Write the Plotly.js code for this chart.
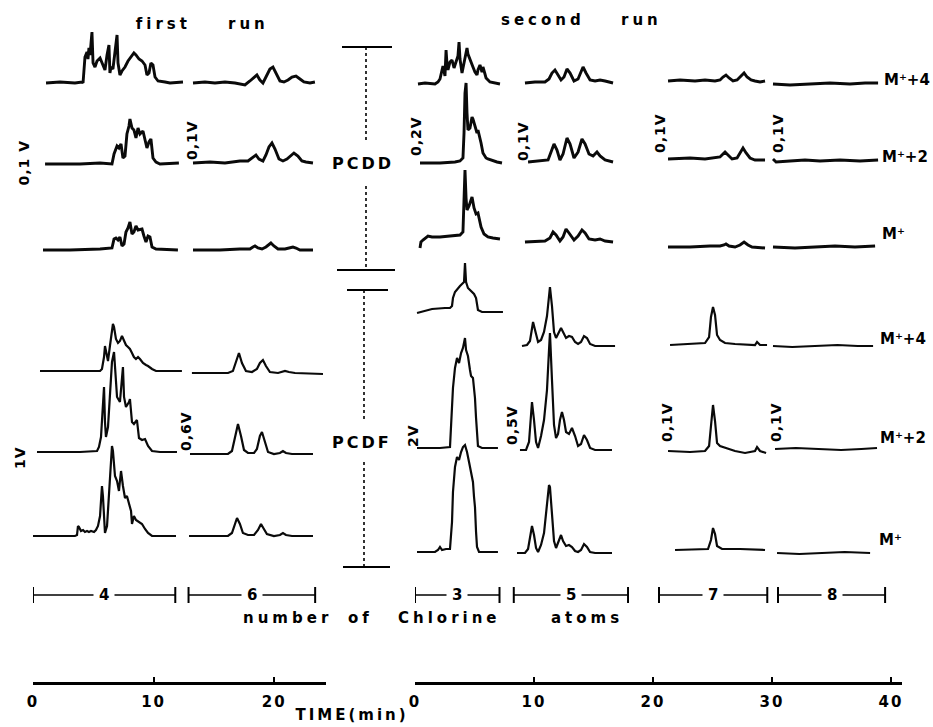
<!DOCTYPE html>
<html><head><meta charset="utf-8">
<script src="https://cdn.plot.ly/plotly-3.0.1.min.js"></script>
<style>
html,body{margin:0;padding:0;background:#fff}
#chart{width:933px;height:727px}
.xtick text,.x2tick text{letter-spacing:2px}
</style>
</head><body><div id="chart"></div>
<script>
// ================= DATA (time in min, signal deflection in relative units) =================
// ---- first run, 4 Cl ----
const t_c4_dd_M4 = [1.08,2.24,3.48,4.06,4.15,4.23,4.31,4.48,4.56,4.64,4.73,4.89,4.98,5.14,5.31,5.56,5.72,5.89,5.97,6.14,6.30,6.38,6.47,6.63,6.80,6.97,7.05,7.21,7.38,7.63,7.88,8.13,8.37,8.54,8.79,9.04,9.29,9.45,9.62,9.78,9.95,10.12,10.37,10.95,11.36,12.44];
const v_c4_dd_M4 = [0,1,0,1,0,20,26,31,24,35,28,51,20,16,22,25,20,15,13,28,38,10,16,14,30,48,20,8,12,16,22,26,30,28,24,22,18,8,10,20,18,6,2,1,0,1];
const t_c4_dd_M2 = [1.0,3.73,3.9,5.56,6.55,6.72,6.97,7.13,7.30,7.46,7.63,7.79,7.96,8.04,8.21,8.37,8.54,8.71,8.87,9.12,9.29,9.45,9.62,9.78,9.95,10.2,10.53,12.1];
const v_c4_dd_M2 = [0,0,0,1,0,10,18,16,20,6,8,30,38,45,36,34,26,36,30,33,24,16,22,25,6,2,0,1];
const t_c4_dd_M  = [0.83,3.07,5.56,6.55,6.72,6.88,7.05,7.21,7.38,7.55,7.71,7.88,8.04,8.21,8.37,8.54,8.71,9.04,9.20,9.37,9.54,9.70,9.87,10.2,12.02];
const v_c4_dd_M  = [0,0,1,2,11,12,10,13,4,6,18,22,28,16,18,24,20,21,14,8,14,13,3,1,0];
const t_c4_df_M4 = [0.58,5.56,5.72,5.89,5.97,6.05,6.22,6.38,6.55,6.63,6.72,6.88,7.05,7.21,7.38,7.55,7.71,7.88,8.04,8.21,8.37,8.54,8.71,8.87,9.12,9.37,9.54,9.87,10.2,12.35];
const v_c4_df_M4 = [0,0,2,14,25,20,10,25,40,47,44,32,28,30,35,30,26,24,22,18,14,12,14,12,8,6,5,2,0,0];
const t_c4_df_M2 = [0.33,3.90,5.31,5.47,5.64,5.80,5.89,5.97,6.05,6.22,6.38,6.55,6.72,6.80,6.97,7.21,7.38,7.46,7.55,7.71,7.96,8.04,8.21,8.37,8.62,8.79,9.04,9.29,9.54,9.87,10.53,11.94];
const v_c4_df_M2 = [0,0,1,5,15,45,65,30,15,25,60,90,100,85,55,50,75,85,55,45,50,53,30,28,32,14,12,13,6,1,0,0];
const t_c4_df_M  = [0,3.48,3.65,3.73,3.81,3.98,4.15,4.31,4.48,4.64,4.81,5.06,5.22,5.39,5.56,5.72,5.80,5.89,5.97,6.14,6.30,6.47,6.55,6.63,6.80,6.97,7.13,7.21,7.30,7.46,7.63,7.79,7.96,8.13,8.21,8.37,8.54,8.79,9.04,9.29,9.54,9.87,11.86];
const v_c4_df_M  = [0,0,1,10,9,5,6,4,5,4,5,4,6,10,20,50,40,10,3,10,40,75,90,85,60,55,45,55,65,50,38,40,33,25,12,20,16,14,12,7,3,0,0];
// ---- first run, 6 Cl ----
const t_c6_dd_M4 = [13.27,14.26,15.09,15.92,16.75,17.58,17.99,18.33,18.57,18.82,19.07,19.32,19.65,19.90,20.15,20.48,20.81,21.15,21.48,21.81,22.14,22.47,22.97,23.38];
const v_c6_dd_M4 = [0,1,0,1,0,-2,2,6,8,3,0,6,14,16,10,2,1,3,6,7,4,1,0,1];
const t_c6_dd_M2 = [13.27,14.68,15.92,17.16,17.83,18.24,18.49,18.74,19.07,19.32,19.57,19.82,20.07,20.4,20.73,21.06,21.39,21.64,21.97,22.3,22.64,23.22];
const v_c6_dd_M2 = [0,1,0,2,2,6,8,4,2,8,16,20,14,4,2,4,8,10,7,2,1,0];
const t_c6_dd_M  = [13.27,15.51,17.16,17.99,18.24,18.41,18.66,18.99,19.32,19.57,19.73,19.98,20.32,20.9,21.31,21.56,21.81,22.14,23.22];
const v_c6_dd_M  = [0,0,1,1,3,4,2,1,3,6,7,4,1,1,2,3,2,0,0];
const t_c6_df_M4 = [13.18,16.17,16.58,16.83,17.08,17.33,17.66,18.16,18.57,18.82,19.07,19.32,19.65,20.32,20.65,20.9,21.23,21.73,24.05];
const v_c6_df_M4 = [0,0,2,10,20,10,2,1,4,10,13,7,1,0,1,2,1,0,-1];
const t_c6_df_M2 = [13.02,16.17,16.5,16.75,17.0,17.25,17.5,17.83,18.33,18.57,18.82,18.99,19.24,19.49,19.98,20.48,20.73,20.98,21.48,23.22];
const v_c6_df_M2 = [0,0,3,15,30,18,4,1,1,5,18,22,12,2,0,1,3,1,0,0];
const t_c6_df_M  = [12.94,16.17,16.5,16.75,16.92,17.16,17.41,17.83,18.33,18.66,18.91,19.15,19.40,19.98,20.48,20.73,20.98,21.48,23.22];
const v_c6_df_M  = [0,0,3,12,18,12,3,1,1,6,12,7,2,0,1,3,1,0,0];
// ---- second run, 3 Cl ----
const t_c3_dd_M4 = [0.25,0.84,1.68,1.93,2.10,2.27,2.35,2.52,2.61,2.69,2.77,2.94,3.11,3.28,3.45,3.61,3.70,3.78,3.95,4.12,4.20,4.37,4.45,4.62,4.79,4.87,5.04,5.21,5.29,5.46,5.63,5.71,5.88,5.97,6.30,6.72,7.14];
const v_c3_dd_M4 = [0,1,0,2,5,14,18,8,34,20,14,22,24,16,22,28,42,25,11,22,29,36,30,24,20,17,12,9,14,19,12,17,10,6,2,1,0];
const t_c3_dd_M2 = [0.42,2.10,3.36,3.78,4.03,4.12,4.20,4.29,4.37,4.45,4.62,4.79,4.87,5.04,5.21,5.29,5.46,5.55,5.71,5.97,6.13,6.55,6.89,7.31];
const v_c3_dd_M2 = [0,0,1,2,5,30,70,80,50,33,35,46,44,36,30,33,25,20,10,5,4,2,1,0];
const t_c3_dd_M  = [0.42,0.50,0.67,0.84,1.09,1.43,2.10,2.94,3.78,4.03,4.12,4.20,4.29,4.37,4.54,4.71,4.79,4.96,5.13,5.29,5.46,5.55,5.80,6.13,6.55,7.14];
const v_c3_dd_M  = [-10,-4,-2,0,2,1,1,2,3,6,40,68,40,28,32,38,41,30,24,25,16,11,4,1,0,-1];
const t_c3_df_M4 = [0.17,0.84,1.43,2.52,2.94,3.11,3.19,3.36,3.61,3.78,3.95,4.12,4.20,4.29,4.45,4.62,4.79,4.96,5.13,5.21,5.29,5.63,6.30,7.39];
const v_c3_df_M4 = [-1,1,3,4,4,6,14,20,24,26,28,30,49,30,24,22,20,18,14,6,2,0,0,0];
const t_c3_df_M2 = [0.17,2.10,2.94,3.11,3.19,3.36,3.53,3.70,3.87,4.03,4.12,4.20,4.29,4.45,4.62,4.71,4.87,4.96,5.04,5.13,5.21,5.29,5.63,6.97];
const v_c3_df_M2 = [0,0,1,40,60,80,90,85,95,100,106,110,98,92,78,72,70,60,50,30,10,2,0,0];
const t_c3_df_M  = [0.17,1.68,1.93,2.10,2.27,2.61,2.94,3.11,3.19,3.36,3.53,3.70,3.87,4.03,4.20,4.37,4.54,4.71,4.87,4.96,5.04,5.13,5.21,5.38,6.97];
const v_c3_df_M  = [0,0,2,5,2,3,3,30,60,85,95,92,100,105,107,100,90,80,70,55,45,20,5,0,0];
// ---- second run, 5 Cl ----
const t_c5_dd_M4 = [9.24,10.08,10.92,11.26,11.51,11.76,12.02,12.27,12.52,12.77,13.03,13.36,13.70,13.95,14.12,14.37,14.71,15.13,15.55,15.97,16.64];
const v_c5_dd_M4 = [0,1,1,4,10,13,8,3,6,14,10,2,4,12,16,10,3,2,3,2,0];
const t_c5_dd_M2 = [9.50,10.50,11.18,11.43,11.68,11.93,12.18,12.44,12.77,13.03,13.36,13.70,14.03,14.29,14.62,14.96,15.29,15.55,15.97,16.64];
const v_c5_dd_M2 = [0,1,2,10,18,12,2,8,24,18,4,10,23,18,8,6,10,6,2,0];
const t_c5_dd_M  = [9.24,10.92,11.34,11.60,11.85,12.18,12.44,12.69,12.94,13.36,13.70,14.03,14.29,14.62,15.13,15.55,15.97,16.64];
const v_c5_dd_M  = [0,1,4,10,7,1,5,13,9,2,6,12,9,3,2,3,1,0];
const t_c5_df_M4 = [8.99,9.41,9.66,9.92,10.17,10.34,10.59,10.84,11.09,11.26,11.34,11.51,11.68,11.85,12.02,12.27,12.44,12.69,12.94,13.19,13.45,13.70,13.95,14.20,14.45,14.71,15.13,16.81];
const v_c5_df_M4 = [0,1,5,24,12,4,6,14,30,50,59,40,14,8,12,18,14,8,10,9,4,2,4,10,8,2,0,0];
const t_c5_df_M2 = [8.82,9.33,9.58,9.75,9.83,10.0,10.17,10.34,10.59,10.84,11.09,11.26,11.34,11.51,11.68,11.85,12.02,12.18,12.35,12.52,12.69,12.94,13.19,13.45,13.70,13.95,14.20,14.45,14.71,15.13,16.55];
const v_c5_df_M2 = [0,0,8,30,48,30,8,2,14,30,60,100,117,70,25,12,16,30,38,30,18,16,22,14,4,6,15,10,2,0,0];
const t_c5_df_M  = [8.57,9.24,9.50,9.66,9.83,10.0,10.17,10.34,10.59,10.84,11.09,11.26,11.34,11.51,11.68,11.85,12.02,12.27,12.44,12.69,12.94,13.19,13.45,13.70,13.95,14.20,14.45,14.71,15.13,16.55];
const v_c5_df_M  = [0,0,4,14,27,18,5,1,8,20,45,68,66,40,12,5,10,18,12,7,8,6,2,1,3,9,6,1,0,0];
// ---- second run, 7 Cl ----
const t_c7_dd_M4 = [21.26,22.27,23.53,24.37,25.21,25.63,25.88,26.13,26.39,26.72,27.06,27.31,27.65,27.90,28.24,28.57,28.99,29.41];
const v_c7_dd_M4 = [0,1,0,1,0,1,4,6,3,0,1,4,8,4,1,0,-1,0];
const t_c7_dd_M2 = [21.26,23.11,24.37,25.21,25.63,25.88,26.05,26.30,26.64,27.06,27.31,27.56,27.82,28.15,28.57,29.41];
const v_c7_dd_M2 = [0,1,0,1,2,5,7,4,0,1,6,11,6,1,-1,-1];
const t_c7_dd_M  = [21.26,23.11,24.79,25.63,25.97,26.13,26.39,26.89,27.31,27.65,27.98,28.32,29.41];
const v_c7_dd_M  = [0,0,1,1,2,3,1,0,2,5,2,0,-1];
const t_c7_df_M4 = [21.43,23.11,23.95,24.37,24.71,24.87,25.04,25.21,25.38,25.63,26.05,26.89,28.57,28.74,28.99,29.58];
const v_c7_df_M4 = [0,1,1,2,8,28,38,30,10,5,2,1,0,3,0,0];
const t_c7_df_M2 = [21.26,23.11,24.37,24.71,24.87,25.04,25.21,25.38,25.63,26.30,26.89,27.73,28.57,28.74,28.99,29.50];
const v_c7_df_M2 = [0,-1,0,5,25,46,30,8,5,2,0,-2,0,4,0,-2];
const t_c7_df_M  = [21.85,23.53,24.62,24.87,25.04,25.21,25.38,25.80,27.31,29.41];
const v_c7_df_M  = [0,1,1,10,22,16,4,1,1,0];
// ---- second run, 8 Cl ----
const t_c8_dd_M4 = [30.08,31.51,33.19,34.87,36.55,37.82,38.91];
const v_c8_dd_M4 = [0,-1,0,1,0,1,1];
const t_c8_dd_M2 = [30.08,30.34,31.51,32.77,34.03,35.71,37.39,38.91];
const v_c8_dd_M2 = [2,-1,0,1,0,1,0,1];
const t_c8_dd_M  = [30.08,31.93,33.61,35.29,36.97,38.66];
const v_c8_dd_M  = [0,-1,0,1,0,1];
const t_c8_df_M4 = [30.08,31.7,33.6,35.5,37.2,38.49];
const v_c8_df_M4 = [0,-1,0,1,0,0];
const t_c8_df_M2 = [30.25,32.0,33.9,35.8,37.5,38.82];
const v_c8_df_M2 = [0,1,0,-1,0,1];
const t_c8_df_M  = [30.42,32.3,34.2,36.1,38.24];
const v_c8_df_M  = [0,-1,0,1,0];

// Chlorine-number groups (retention windows, min)
const clLabels = ['4','6','3','5','7','8'];
const clRun    = [1,1,2,2,2,2];
const clStart  = [0,12.9,0,8.3,20.5,30.5];
const clEnd    = [11.8,23.4,7.1,17.9,29.6,39.5];

// ================= LAYOUT CONSTANTS (positions, px from top) =================
const W = 933, H = 727;
const baseline = {
  c4:{dd_M4:83,dd_M2:164,dd_M:250,df_M4:371,df_M2:452,df_M:536},
  c6:{dd_M4:83,dd_M2:163,dd_M:250,df_M4:373,df_M2:454,df_M:536},
  c3:{dd_M4:84,dd_M2:163,dd_M:238,df_M4:312,df_M2:448,df_M:552},
  c5:{dd_M4:83,dd_M2:162,dd_M:242,df_M4:346,df_M2:450,df_M:553},
  c7:{dd_M4:81,dd_M2:159,dd_M:247,df_M4:345,df_M2:451,df_M:550},
  c8:{dd_M4:84,dd_M2:161,dd_M:247,df_M4:346,df_M2:449,df_M:553}
};
const runOf = {c4:1,c6:1,c3:2,c5:2,c7:2,c8:2};
const segs = [
  ['c4','dd_M4',t_c4_dd_M4,v_c4_dd_M4],['c4','dd_M2',t_c4_dd_M2,v_c4_dd_M2],['c4','dd_M',t_c4_dd_M,v_c4_dd_M],
  ['c4','df_M4',t_c4_df_M4,v_c4_df_M4],['c4','df_M2',t_c4_df_M2,v_c4_df_M2],['c4','df_M',t_c4_df_M,v_c4_df_M],
  ['c6','dd_M4',t_c6_dd_M4,v_c6_dd_M4],['c6','dd_M2',t_c6_dd_M2,v_c6_dd_M2],['c6','dd_M',t_c6_dd_M,v_c6_dd_M],
  ['c6','df_M4',t_c6_df_M4,v_c6_df_M4],['c6','df_M2',t_c6_df_M2,v_c6_df_M2],['c6','df_M',t_c6_df_M,v_c6_df_M],
  ['c3','dd_M4',t_c3_dd_M4,v_c3_dd_M4],['c3','dd_M2',t_c3_dd_M2,v_c3_dd_M2],['c3','dd_M',t_c3_dd_M,v_c3_dd_M],
  ['c3','df_M4',t_c3_df_M4,v_c3_df_M4],['c3','df_M2',t_c3_df_M2,v_c3_df_M2],['c3','df_M',t_c3_df_M,v_c3_df_M],
  ['c5','dd_M4',t_c5_dd_M4,v_c5_dd_M4],['c5','dd_M2',t_c5_dd_M2,v_c5_dd_M2],['c5','dd_M',t_c5_dd_M,v_c5_dd_M],
  ['c5','df_M4',t_c5_df_M4,v_c5_df_M4],['c5','df_M2',t_c5_df_M2,v_c5_df_M2],['c5','df_M',t_c5_df_M,v_c5_df_M],
  ['c7','dd_M4',t_c7_dd_M4,v_c7_dd_M4],['c7','dd_M2',t_c7_dd_M2,v_c7_dd_M2],['c7','dd_M',t_c7_dd_M,v_c7_dd_M],
  ['c7','df_M4',t_c7_df_M4,v_c7_df_M4],['c7','df_M2',t_c7_df_M2,v_c7_df_M2],['c7','df_M',t_c7_df_M,v_c7_df_M],
  ['c8','dd_M4',t_c8_dd_M4,v_c8_dd_M4],['c8','dd_M2',t_c8_dd_M2,v_c8_dd_M2],['c8','dd_M',t_c8_dd_M,v_c8_dd_M],
  ['c8','df_M4',t_c8_df_M4,v_c8_df_M4],['c8','df_M2',t_c8_df_M2,v_c8_df_M2],['c8','df_M',t_c8_df_M,v_c8_df_M]
];

const traces = segs.map(([col,row,t,v]) => ({
  type:'scatter', mode:'lines', x:t,
  y:v.map(a => baseline[col][row] - a),
  xaxis: runOf[col]===1 ? 'x' : 'x2', yaxis:'y',
  line:{color:'#0a0a0a', width: row.startsWith('dd') ? 2.9 : 2.2},
  hoverinfo:'skip', showlegend:false, cliponaxis:false
}));

const FONT = 'DejaVu Sans, Arial, sans-serif';
const px = x => x / W;

const axisCommon = {
  anchor:'free', position:(H-683)/H, showline:true, linewidth:2.5, linecolor:'#000',
  ticks:'inside', ticklen:5, tickwidth:2, tickcolor:'#000', dtick:10, tick0:0,
  showgrid:false, zeroline:false, ticklabelstandoff:4, fixedrange:true,
  tickfont:{family:FONT, size:15, weight:'bold', color:'#000'}
};

const shapes = [];
const annotations = [];
const spacing = [];   // letter-spacing (px) per annotation index (styling only)
// chlorine-number brackets
clLabels.forEach((lab,i) => {
  const xr = clRun[i]===1 ? 'x' : 'x2';
  shapes.push({type:'line', xref:xr, yref:'y', x0:clStart[i], x1:clEnd[i], y0:595, y1:595, line:{color:'#000', width:1.5}});
  shapes.push({type:'line', xref:xr, yref:'y', x0:clStart[i], x1:clStart[i], y0:587, y1:603, line:{color:'#000', width:2}});
  shapes.push({type:'line', xref:xr, yref:'y', x0:clEnd[i], x1:clEnd[i], y0:587, y1:603, line:{color:'#000', width:2}});
  annotations.push({xref:xr, yref:'y', x:(clStart[i]+clEnd[i])/2, y:595, text:lab, showarrow:false,
    xanchor:'center', yanchor:'middle',
    bgcolor:'#fff', borderpad:5, font:{family:FONT, size:15, weight:'bold', color:'#000'}});
  spacing.push(0);
});
// PCDD / PCDF brackets
const hbar = (x0,x1,y) => ({type:'line', xref:'paper', yref:'y', x0:px(x0), x1:px(x1), y0:y, y1:y, line:{color:'#000', width:2}});
const vdot = (x,y0,y1) => ({type:'line', xref:'paper', yref:'y', x0:px(x), x1:px(x), y0:y0, y1:y1, line:{color:'#000', width:1.6, dash:'dot'}});
shapes.push(hbar(342,392,47), vdot(366,47,140), vdot(366,186,270), hbar(337,395,270));
shapes.push(hbar(347,388,290), vdot(364,290,422), vdot(364,462,567), hbar(343,390,567));

const addTxt = (text, x, y, size, ls, opts) => {
  annotations.push(Object.assign({xref:'paper', yref:'y', x:px(x), y:y, text:text, showarrow:false,
    xanchor:'center', yanchor:'middle',
    font:{family:FONT, size:size, weight:'bold', color:'#000'}}, opts||{}));
  spacing.push(ls);
};

// titles (word by word, wide-set like the original typewriter lettering)
addTxt('first', 163, 24, 15, 4);
addTxt('run', 248, 24, 15, 4);
addTxt('second', 543, 20, 15, 4);
addTxt('run', 641, 20, 15, 4);
addTxt('PCDD', 363, 163, 16, 3);
addTxt('PCDF', 362, 442, 16, 3);
addTxt('number', 288, 618, 15, 4);
addTxt('of', 360, 618, 15, 4);
addTxt('Chlorine', 449, 618, 15, 4);
addTxt('atoms', 587, 618, 15, 4);
addTxt('TIME(min)', 352, 715, 15, 3);
// M+ labels
[['M\u207A+4',882,80],['M\u207A+2',880,157],['M\u207A',880,234],
 ['M\u207A+4',878,339],['M\u207A+2',878,438],['M\u207A',877,540]].forEach(([t,x,y]) =>
  addTxt(t, x, y, 15, 0, {xanchor:'left'}));
// sensitivity labels (rotated)
[['0,1 V',24,163],['0,1V',192,140],['1V',20,458],['0,6V',186,431],
 ['0,2V',416,136],['0,1V',523,141],['0,1V',660,133],['0,1V',778,133],
 ['2V',413,436],['0,5V',512,425],['0,1V',667,422],['0,1V',776,422]].forEach(([t,x,y]) =>
  addTxt(t, x, y, 14, 1, {textangle:-90}));

const css = spacing.map((s,i) => s ? '.annotation[data-index="' + i + '"] text{letter-spacing:' + s + 'px}' : '').join('\n');
const st = document.createElement('style'); st.textContent = css; document.head.appendChild(st);

const layout = {
  width:W, height:H, margin:{l:0,r:0,t:0,b:0},
  paper_bgcolor:'#fff', plot_bgcolor:'rgba(0,0,0,0)', showlegend:false,
  xaxis:Object.assign({domain:[px(33),px(326)], range:[0,24.3]}, axisCommon),
  xaxis2:Object.assign({domain:[px(415),px(902)], range:[0,40.92]}, axisCommon),
  yaxis:{domain:[0,1], range:[H,0], visible:false, fixedrange:true},
  shapes:shapes, annotations:annotations
};

Plotly.newPlot('chart', traces, layout, {staticPlot:true, displayModeBar:false});
</script></body></html>
